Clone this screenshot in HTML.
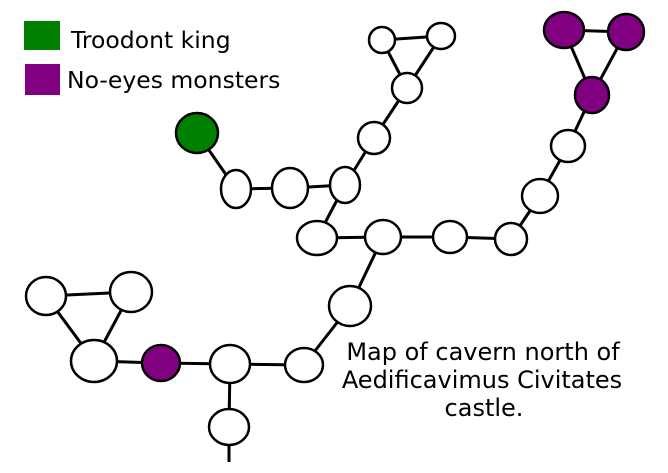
<!DOCTYPE html>
<html><head><meta charset="utf-8"><style>
html,body{margin:0;padding:0;background:#fff;width:668px;height:473px;overflow:hidden}
</style></head><body>
<svg width="668" height="473" viewBox="0 0 668 473" xmlns="http://www.w3.org/2000/svg" style="display:block">
<rect x="24" y="21" width="36" height="29" fill="#008000"/>
<rect x="25" y="64" width="35" height="31" fill="#800080"/>
<g font-family="DejaVu Sans, Liberation Sans, sans-serif" fill="#000">
<text x="71" y="48" font-size="23.5">Troodont king</text>
<text x="67" y="88" font-size="23.5">No-eyes monsters</text>
<g text-anchor="middle" font-size="24">
<text x="483" y="360">Map of cavern north of</text>
<text x="482" y="388">Aedificavimus Civitates</text>
<text x="484" y="416">castle.</text>
</g>
</g>
<g stroke="#000" stroke-width="3" fill="none">
<line x1="382" y1="40" x2="441" y2="36"/><line x1="382" y1="40" x2="407" y2="88"/><line x1="441" y1="36" x2="407" y2="88"/>
<line x1="407" y1="88" x2="374" y2="138"/><line x1="374" y1="138" x2="345" y2="185"/>
<line x1="197" y1="133" x2="236" y2="189"/><line x1="236" y1="189" x2="290" y2="188"/><line x1="290" y1="188" x2="345" y2="185"/>
<line x1="345" y1="185" x2="317" y2="238"/><line x1="317" y1="238" x2="383" y2="237"/><line x1="383" y1="237" x2="450" y2="237"/><line x1="450" y1="237" x2="511" y2="239"/>
<line x1="511" y1="239" x2="540" y2="196"/><line x1="540" y1="196" x2="568" y2="146"/><line x1="568" y1="146" x2="592" y2="95"/>
<line x1="592" y1="95" x2="564" y2="30"/><line x1="592" y1="95" x2="626" y2="32"/><line x1="564" y1="30" x2="626" y2="32"/>
<line x1="383" y1="237" x2="350" y2="306"/><line x1="350" y1="306" x2="304" y2="365"/><line x1="304" y1="365" x2="230" y2="364"/>
<line x1="230" y1="364" x2="161" y2="363"/><line x1="161" y1="363" x2="94" y2="361"/><line x1="94" y1="361" x2="46" y2="296"/><line x1="94" y1="361" x2="131" y2="292"/><line x1="46" y1="296" x2="131" y2="292"/>
<line x1="230" y1="364" x2="229" y2="427"/><line x1="229" y1="427" x2="229" y2="462"/>
</g>
<g stroke="#000" stroke-width="2.5" fill="#fff">
<ellipse cx="382" cy="40" rx="13" ry="13"/>
<ellipse cx="441" cy="36" rx="14" ry="13"/>
<ellipse cx="407" cy="88" rx="15" ry="15"/>
<ellipse cx="374" cy="138" rx="16" ry="16"/>
<ellipse cx="197" cy="133" rx="21" ry="20" fill="#008000"/>
<ellipse cx="236" cy="189" rx="15" ry="19"/>
<ellipse cx="290" cy="188" rx="18" ry="20"/>
<ellipse cx="345" cy="185" rx="15" ry="18"/>
<ellipse cx="317" cy="238" rx="20" ry="17"/>
<ellipse cx="383" cy="237" rx="18" ry="17"/>
<ellipse cx="450" cy="237" rx="17" ry="16"/>
<ellipse cx="511" cy="239" rx="16" ry="16"/>
<ellipse cx="540" cy="196" rx="18" ry="17"/>
<ellipse cx="568" cy="146" rx="17" ry="16"/>
<ellipse cx="592" cy="95" rx="17" ry="18" fill="#800080"/>
<ellipse cx="564" cy="30" rx="20" ry="18" fill="#800080"/>
<ellipse cx="626" cy="32" rx="18" ry="18" fill="#800080"/>
<ellipse cx="350" cy="306" rx="21" ry="20"/>
<ellipse cx="304" cy="365" rx="19" ry="17"/>
<ellipse cx="230" cy="364" rx="20" ry="19"/>
<ellipse cx="161" cy="363" rx="19" ry="18" fill="#800080"/>
<ellipse cx="94" cy="361" rx="23" ry="21"/>
<ellipse cx="46" cy="296" rx="20" ry="19"/>
<ellipse cx="131" cy="292" rx="21" ry="20"/>
<ellipse cx="229" cy="427" rx="20" ry="18"/>
</g>
</svg>
</body></html>
